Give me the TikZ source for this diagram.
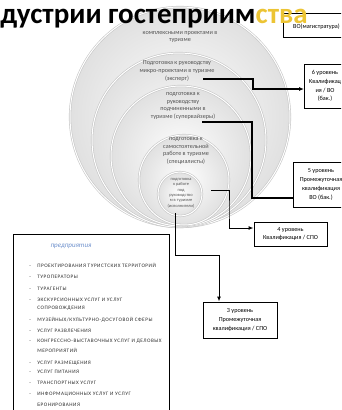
\documentclass[tikz,border=0pt]{standalone}
\usepackage{fontspec}
\setmainfont{Carlito}
\usetikzlibrary{positioning,arrows.meta,calc}
\definecolor{ttlyellow}{RGB}{236,196,52}
\definecolor{entblue}{RGB}{110,145,205}
\tikzset{
  every picture/.style={line width=0.6pt},
  ring/.style={draw=gray!45,double=white,double distance=1pt,inner color=white,outer color=gray!24},
  ctxt/.style={align=center,text=gray!65!black,font=\fontsize{6.2}{7.6}\selectfont,inner sep=0},
  lvl/.style={draw,line width=0.9pt,fill=white,align=center,font=\fontsize{6.2}{8.8}\selectfont,inner sep=1pt},
  entbox/.style={draw,line width=0.9pt,fill=white,anchor=north west,minimum width=156pt,minimum height=190pt},
  item/.style={anchor=base west,inner sep=0,font=\fontsize{5.2}{6}\selectfont\addfontfeatures{LetterSpace=10},text=gray!35!black},
  flow/.style={-{Latex[length=5pt,width=4pt]},line width=1.4pt},
  link/.style={line width=1.4pt},
  thinflow/.style={-{Latex[length=5pt,width=4pt]},line width=1pt},
}

\begin{document}
\begin{tikzpicture}[x=1pt,y=-1pt]
\useasboundingbox (0,0) rectangle (341,410);
\clip (0,0) rectangle (341,410);
% --- nested circles ---
\foreach \cx/\cy/\r in {180/117/110, 179/140/87, 181/156/70, 184/180/45, 180/194/22}{
  \path[ring] (\cx,\cy) circle (\r);
}
% --- circle texts ---
\node[ctxt] (top) at (180,37) {комплексными проектами в\\туризме};
\node[ctxt] (expert) at (177,71) {Подготовка к руководству\\микро-проектами в туризме\\(эксперт)};
\node[ctxt] (super) at (183,106) {подготовка к\\руководству\\подчиненными в\\туризме (супервайзеры)};
\node[ctxt] (spec) at (186,151) {подготовка к\\самостоятельной\\работе в туризме\\(специалисты)};
\node[ctxt,font=\fontsize{4.4}{5.3}\selectfont] (exec) at (181,193) {подготовка\\к работе\\под\\руководство\\м в туризме\\(исполнители)};
% --- level boxes ---
\node[lvl,minimum width=67pt,minimum height=24pt] (lvl7) at (316.5,25) {~\\ВО(магистратура)};
\node[lvl,minimum width=41pt,minimum height=44pt] (lvl6) at (325,86) {6 уровень\\Квалификац\\ия / ВО\\(бак.)};
\node[lvl,minimum width=56pt,minimum height=45pt] (lvl5) at (321,184.5) {5 уровень\\Промежуточная\\квалификация\\ВО (бак.)};
\node[lvl,minimum width=73pt,minimum height=24pt] (lvl4) at (290.5,234) {4 уровень\\Квалификация / СПО};
\node[lvl,minimum width=74pt,minimum height=36pt] (lvl3) at (240,320) {3 уровень\\Промежуточная\\квалификация / СПО};
% --- connectors ---
\coordinate (e1) at (203,79);  \coordinate (b1) at (253,85);
\coordinate (e2) at (202,122); \coordinate (b2) at (252,150);
\coordinate (e3) at (211,190); \coordinate (b3) at (229,210);
\coordinate (e4) at (175,213); \coordinate (b4) at (219,255);
\draw[flow] (e1) -| (b1) |- ([yshift=-3pt]lvl6.west);
\draw[link] (e2) -| (b2) |- ([yshift=-13.5pt]lvl5.west);
\draw[thinflow] (e3) -| (b3) |- ([yshift=6pt]lvl4.west);
\draw[thinflow] (e4) |- (b4) -- (b4 |- lvl3.north);
% --- enterprises ---
\node[entbox] (ent) at (13,234) {};
\node[font=\fontsize{7}{8}\selectfont\itshape,text=entblue] (enttitle) at (71,246) {предприятия};
\foreach \y in {267,278,290,301,321,332,342,364,373,384,395}{
  \node[item] (dash\y) at (29,\y) {-};
}
\foreach \y/\t in {267/ПРОЕКТИРОВАНИЯ ТУРИСТСКИХ ТЕРРИТОРИЙ, 278/ТУРОПЕРАТОРЫ, 290/ТУРАГЕНТЫ,
  301/ЭКСКУРСИОННЫХ УСЛУГ И УСЛУГ, 309/СОПРОВОЖДЕНИЯ, 321/{МУЗЕЙНЫХ/КУЛЬТУРНО-ДОСУГОВОЙ СФЕРЫ},
  332/УСЛУГ РАЗВЛЕЧЕНИЯ, 342/КОНГРЕССНО-ВЫСТАВОЧНЫХ УСЛУГ И ДЕЛОВЫХ, 352/МЕРОПРИЯТИЙ,
  364/УСЛУГ РАЗМЕЩЕНИЯ, 373/УСЛУГ ПИТАНИЯ, 384/ТРАНСПОРТНЫХ УСЛУГ,
  395/ИНФОРМАЦИОННЫХ УСЛУГ И УСЛУГ, 406/БРОНИРОВАНИЯ}{
  \node[item] (it\y) at (37,\y) {\t};
}
% --- title ---
\node[anchor=base west,inner sep=0,font=\fontsize{29}{29}\selectfont\bfseries] (title) at (0,23) {дустрии гостеприим\textcolor{ttlyellow}{ства}};
\end{tikzpicture}
\end{document}
